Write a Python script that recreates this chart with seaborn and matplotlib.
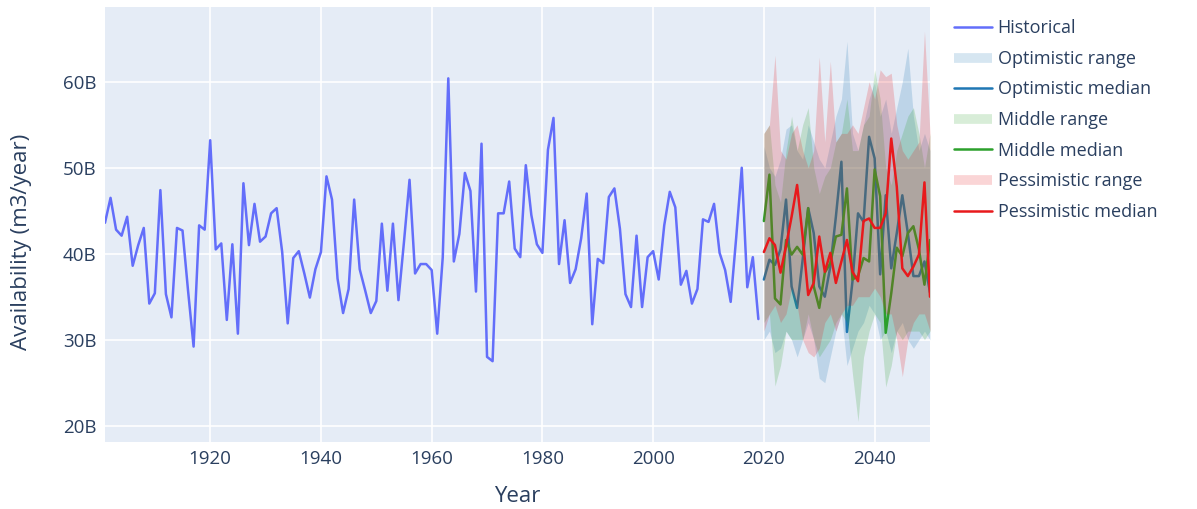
import numpy as np
import pandas as pd
import matplotlib
matplotlib.use("Agg")
import matplotlib.pyplot as plt
from matplotlib.lines import Line2D
from matplotlib.ticker import FuncFormatter
import seaborn as sns

# ---- data (values in billions of m3/year) ----
hist_years = np.arange(1901, 2020)
hist_values = [
    43.6, 46.5, 42.8, 42.1, 44.3, 38.6, 41.0, 43.0, 34.2, 35.4, 47.4, 35.3, 32.6, 43.0, 42.7,
    35.7, 29.2, 43.3, 42.8, 53.2, 40.5, 41.2, 32.3, 41.1, 30.7,
    48.2, 41.0, 45.8, 41.4, 42.0, 44.7, 45.3, 40.2, 31.9, 39.5, 40.3, 37.7, 34.9, 38.2, 40.2,
    49.0, 46.3, 37.1, 33.1, 35.9, 46.3, 38.2, 35.7, 33.1,
    34.5, 43.5, 35.7, 43.5, 34.6, 41.4, 48.6, 37.7, 38.8, 38.8, 38.1, 30.7, 39.6, 60.4, 39.1,
    42.3, 49.4, 47.3, 35.6, 52.8, 28.0, 27.5, 44.7, 44.7, 48.4,
    40.6, 39.6, 50.3, 44.5, 41.1, 40.1, 52.1, 55.8, 38.8, 43.9, 36.6, 38.2, 41.8, 47.0, 31.8,
    39.4, 38.9, 46.6, 47.6, 42.9, 35.3, 33.8, 42.1, 33.8,
    39.6, 40.3, 37.0, 43.3, 47.2, 45.4, 36.4, 38.0, 34.2, 35.9, 44.0, 43.7, 45.8, 40.1, 38.1,
    34.4, 41.9, 50.0, 36.1, 39.6, 32.4,
]

proj_years = np.arange(2020, 2051)
opt_median = [37.0, 39.3, 38.7, 40.5, 46.3, 36.2, 33.7, 39.3, 45.3, 42.4, 36.2, 35.0, 38.5, 44.3,
              50.7, 30.9, 36.8, 44.7, 43.7, 53.6, 51.1, 37.6, 46.8, 38.3, 42.4, 46.8, 42.4, 37.4,
              37.4, 39.1, 35.5]
opt_high = [52.5, 50.0, 49.0, 51.0, 54.5, 55.0, 52.0, 51.0, 55.0, 53.0, 51.0, 50.0, 53.0, 56.0,
            58.0, 64.7, 54.0, 52.0, 55.0, 58.0, 60.0, 56.0, 58.0, 54.0, 57.0, 60.0, 63.9, 56.0,
            52.0, 54.0, 52.0]
opt_low = [30.0, 31.0, 28.5, 29.0, 31.0, 30.0, 28.0, 30.0, 32.0, 30.0, 25.5, 25.0, 28.0, 31.0,
           33.0, 27.0, 29.0, 31.0, 32.0, 34.0, 33.0, 30.0, 31.0, 28.5, 31.0, 32.0, 30.0, 29.0,
           30.0, 31.0, 30.0]

mid_median = [43.8, 49.2, 34.8, 34.1, 41.6, 39.9, 40.8, 39.9, 45.3, 36.2, 33.7, 37.8, 38.9, 42.0,
              42.2, 47.6, 37.0, 37.4, 39.5, 39.1, 49.8, 46.7, 30.8, 35.4, 40.7, 39.7, 42.4, 43.2,
              40.5, 36.4, 41.6]
mid_high = [54.0, 55.0, 48.0, 46.0, 52.0, 56.0, 52.0, 55.0, 57.0, 50.0, 47.0, 49.0, 50.0, 53.0,
            54.0, 58.0, 52.0, 52.0, 55.0, 56.0, 61.4, 58.0, 50.0, 48.0, 52.0, 54.0, 56.0, 57.0,
            54.0, 50.0, 54.0]
mid_low = [32.0, 33.0, 24.6, 27.0, 31.0, 30.0, 30.0, 30.0, 33.0, 30.0, 28.0, 29.0, 30.0, 32.0,
           33.0, 32.0, 26.0, 20.5, 28.0, 31.0, 33.0, 32.0, 24.5, 27.0, 31.0, 30.0, 31.0, 31.0,
           31.0, 30.0, 31.0]

pes_median = [40.2, 41.8, 41.0, 37.8, 40.9, 44.3, 48.0, 42.0, 35.2, 36.6, 42.0, 37.9, 40.1, 36.6,
              39.1, 41.6, 37.9, 36.8, 43.8, 44.1, 43.0, 43.0, 44.7, 53.4, 47.8, 38.3, 37.4, 38.5,
              39.9, 48.3, 35.0]
pes_high = [54.0, 55.0, 63.1, 52.0, 51.0, 54.0, 55.0, 52.0, 50.0, 52.0, 62.9, 53.0, 62.4, 53.0,
            54.0, 54.0, 55.0, 54.0, 57.0, 60.0, 58.0, 61.4, 60.6, 61.0, 55.0, 52.0, 51.0, 52.0,
            53.0, 65.9, 54.0]
pes_low = [31.0, 33.0, 34.0, 32.0, 33.0, 36.0, 34.0, 30.0, 28.5, 28.0, 29.0, 32.0, 33.0, 31.0,
           33.0, 34.0, 34.0, 35.0, 35.0, 35.0, 36.0, 35.0, 33.0, 33.0, 30.0, 25.7, 30.0, 32.0,
           33.0, 33.0, 31.0]

x_ticks = [1920, 1940, 1960, 1980, 2000, 2020, 2040]
y_ticks = [20, 30, 40, 50, 60]

# ---- style ----
sns.set_style("darkgrid", {"axes.facecolor": "#E5ECF6", "grid.color": "white",
                           "axes.edgecolor": "#E5ECF6"})
plt.rcParams["font.family"] = ["Open Sans", "DejaVu Sans"]
text_color = "#2a3f5f"

fig = plt.figure(figsize=(11.97, 5.09), dpi=100)
ax = fig.add_axes([105 / 1197, 1 - 442 / 509, (930 - 105) / 1197, (442 - 7) / 509])

hist_df = pd.DataFrame({"Year": hist_years, "Value": hist_values})
sns.lineplot(data=hist_df, x="Year", y="Value", ax=ax, color="#636efa", linewidth=1.8, zorder=3)

scen = [
    ("Optimistic", opt_low, opt_high, opt_median, "#1f77b4"),
    ("Middle", mid_low, mid_high, mid_median, "#2ca02c"),
    ("Pessimistic", pes_low, pes_high, pes_median, "#e8191c"),
]
handles = [Line2D([], [], color="#636efa", lw=1.8)]
labels = ["Historical"]
z = 4
for name, lo, hi, med, col in scen:
    ax.fill_between(proj_years, lo, hi, color=col, alpha=0.2, linewidth=0, zorder=z)
    df = pd.DataFrame({"Year": proj_years, "Value": med})
    sns.lineplot(data=df, x="Year", y="Value", ax=ax, color=col, linewidth=1.8, zorder=z + 1)
    z += 2
    handles.append(Line2D([], [], color=col, alpha=0.18, lw=7, solid_capstyle="butt"))
    labels.append(f"{name} range")
    handles.append(Line2D([], [], color=col, lw=1.8))
    labels.append(f"{name} median")

ax.set_xlim(1901, 2050)
ax.set_ylim(18.1, 68.7)
ax.set_xticks(x_ticks)
ax.set_yticks(y_ticks)
ax.yaxis.set_major_formatter(FuncFormatter(lambda v, p: f"{v:.0f}B"))
ax.grid(True, color="white", linewidth=1.2)
for s in ax.spines.values():
    s.set_visible(False)
ax.tick_params(axis="both", length=0, labelsize=13.5, colors=text_color, pad=6)
ax.set_xlabel("Year", fontsize=16, color=text_color, labelpad=13)
ax.set_ylabel("Availability (m3/year)", fontsize=16, color=text_color)
ax.yaxis.set_label_coords(-0.0885, 0.46)

leg = fig.legend(handles, labels, loc="upper left", bbox_to_anchor=(947 / 1197, 1 - 12 / 509),
                 frameon=False, fontsize=13, handlelength=2.1, handletextpad=0.3,
                 labelspacing=0.7, borderaxespad=0)
for t in leg.get_texts():
    t.set_color(text_color)

fig.savefig("out.png", dpi=100)
